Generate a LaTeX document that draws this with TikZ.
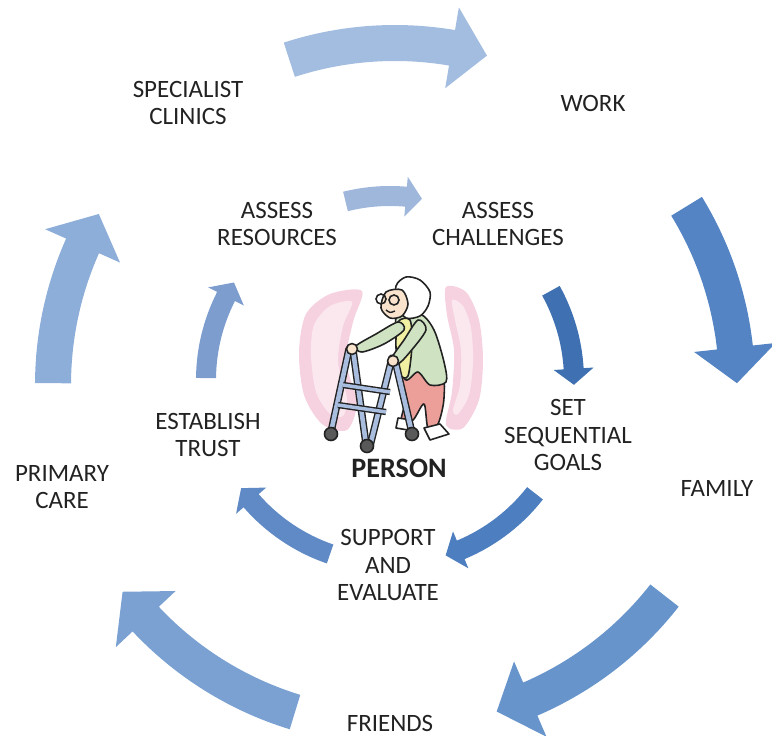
\documentclass[tikz,border=0pt]{standalone}
\usepackage{fontspec}
\setmainfont{Carlito}
\usepackage{xcolor}
\usetikzlibrary{positioning}
\definecolor{outA}{HTML}{A3BDE0}
\definecolor{outB}{HTML}{5484C3}
\definecolor{outC}{HTML}{6794CB}
\definecolor{outD}{HTML}{7AA1D2}
\definecolor{outE}{HTML}{8DAED9}
\definecolor{inA}{HTML}{9FB7DB}
\definecolor{inB}{HTML}{3F70B1}
\definecolor{inC}{HTML}{4D7EBF}
\definecolor{inD}{HTML}{5F8AC5}
\definecolor{inE}{HTML}{7D9DCF}
\definecolor{blush}{HTML}{F6D2E0}
\definecolor{blushlight}{HTML}{FBE8EF}
\definecolor{cardigan}{HTML}{CFE3C2}
\definecolor{shirt}{HTML}{F1EFA2}
\definecolor{trousers}{HTML}{EC9E98}
\definecolor{skin}{HTML}{F9E3CC}
\definecolor{frame}{HTML}{A9BEDF}
\definecolor{ink}{HTML}{222222}

\tikzset{
    lbl/.style={align=center, text=ink, font=\fontsize{14.2}{15.6}\selectfont},
    outline/.style={draw=ink, line width=0.9pt, line join=round},
}

\begin{document}
\begin{tikzpicture}[x=0.02cm, y=-0.02cm]
    \useasboundingbox (0,0) rectangle (772,736);

    % OUTER RING (centre 395/385, radius 342)
    \foreach \a/\b/\c in {
        252/285.6/outA,   % to work
        328.5/359.7/outB, % to family
        38/72.7/outC,     % to friends
        107/142.8/outD,   % to primary care
        180.3/210/outE}   % to specialist clinics
    {
        \pgfmathsetmacro\hb{\b-6}
        \fill[\c, shift={(395,385)}] (\a:360) arc[start angle=\a, end angle=\hb, radius=360]
            -- (\hb:383) -- (\b:342) -- (\hb:301) -- (\hb:324)
            arc[start angle=\hb, end angle=\a, radius=324] -- cycle;
    }

    % INNER RING (centre 390/380, radius 184)
    \foreach \a/\b/\c in {
        256/280/inA,
        331/361.5/inB,
        38/72.4/inC,
        109/144/inD,
        180.6/212/inE}
    {
        \pgfmathsetmacro\hb{\b-5}
        \fill[\c, shift={(390,380)}] (\a:194) arc[start angle=\a, end angle=\hb, radius=194]
            -- (\hb:204) -- (\b:184) -- (\hb:164) -- (\hb:174)
            arc[start angle=\hb, end angle=\a, radius=174] -- cycle;
    }

    % background glow behind the person
    \fill[blush] plot[smooth cycle] coordinates {(362,291) (330,294) (306,314) (299,352) (304,395) (322,424) (347,430) (357,402) (346,362) (353,322)};
    \fill[blushlight] plot[smooth cycle] coordinates {(352,302) (330,306) (314,325) (311,355) (316,392) (330,414) (343,416) (347,398) (338,362) (343,326)};
    \fill[blush] plot[smooth cycle] coordinates {(446,287) (466,292) (479,320) (483,360) (479,400) (463,428) (446,425) (452,392) (454,350) (447,315)};
    \fill[blushlight] plot[smooth cycle] coordinates {(452,300) (463,306) (471,328) (473,362) (469,395) (458,414) (453,410) (460,385) (461,350) (455,320)};

    % legs and shoe
    \filldraw[fill=trousers, outline] plot[smooth cycle] coordinates {(400,372) (440,370) (444,398) (438,424) (428,428) (424,404) (413,420) (401,422) (406,396)};
    \filldraw[fill=white, outline] (424,428) -- (440,424) -- (449,434) -- (430,440) -- cycle;
    \filldraw[fill=white, outline] (398,418) -- (412,420) -- (408,430) -- (396,428) -- cycle;

    % body
    \filldraw[fill=cardigan, outline] plot[smooth cycle] coordinates {(396,318) (420,314) (434,330) (444,362) (446,382) (430,385) (418,372) (404,378)};
    \filldraw[fill=shirt, outline] plot[smooth cycle] coordinates {(398,322) (410,320) (412,345) (408,376) (400,374) (396,348)};

    % walker
    \foreach \p/\q in {
        {(349,349)}/{(331,432)},
        {(353,350)}/{(366,444)},
        {(392,358)}/{(370,446)},
        {(395,360)}/{(412,433)}}
    {
        \draw[ink, line width=4.2pt, line cap=round] \p -- \q;
        \draw[frame, line width=2.6pt, line cap=round] \p -- \q;
    }
    \foreach \p/\q in {
        {(343,385)}/{(390,392)},
        {(338,405)}/{(386,412)}}
    {
        \draw[ink, line width=3.6pt] \p -- \q;
        \draw[frame, line width=2pt] \p -- \q;
    }
    \foreach \x/\y in {331/434, 367/446, 412/434}
        \filldraw[fill=gray!70!black, draw=ink, line width=0.9pt] (\x,\y) circle[radius=6.5];

    % arms and hands
    \filldraw[fill=cardigan, outline] plot[smooth cycle] coordinates {(398,322) (404,330) (384,344) (362,352) (356,346) (376,334)};
    \filldraw[fill=cardigan, outline] plot[smooth cycle] coordinates {(418,320) (426,330) (410,352) (398,364) (392,358) (404,340)};
    \filldraw[fill=skin, outline] (352,349) circle[radius=5.5];
    \filldraw[fill=skin, outline] (393,361) circle[radius=5.5];

    % head, hair and glasses
    \filldraw[fill=white, outline] plot[smooth cycle] coordinates {(396,286) (406,277) (420,280) (430,292) (428,306) (420,316) (406,318) (398,306)};
    \filldraw[fill=skin, outline] plot[smooth cycle] coordinates {(386,292) (402,290) (408,304) (402,316) (390,318) (381,308)};
    \draw[ink, line width=0.9pt] (381,299) circle[radius=5] (394,300) circle[radius=5];
    \draw[ink, line width=0.8pt] (386,310) .. controls (390,313) .. (395,311);

    % LABELS
    \node[lbl] (clinics) at (188,103) {SPECIALIST\\CLINICS};
    \node[lbl] (work) at (593,103) {WORK};
    \node[lbl] (family) at (717,489) {FAMILY};
    \node[lbl] (friends) at (390,723) {FRIENDS};
    \node[lbl] (primary) at (62,487) {PRIMARY\\CARE};
    \node[lbl] (resources) at (277,224) {ASSESS\\RESOURCES};
    \node[lbl] (challenges) at (498,224) {ASSESS\\CHALLENGES};
    \node[lbl] (goals) at (568,435) {SET\\SEQUENTIAL\\GOALS};
    \node[lbl] (support) at (388,565) {SUPPORT\\AND\\EVALUATE};
    \node[lbl] (trust) at (208,435) {ESTABLISH\\TRUST};
    \node[lbl, font=\fontsize{16}{18}\selectfont\bfseries] (person) at (399,468) {PERSON};

\end{tikzpicture}
\end{document}
